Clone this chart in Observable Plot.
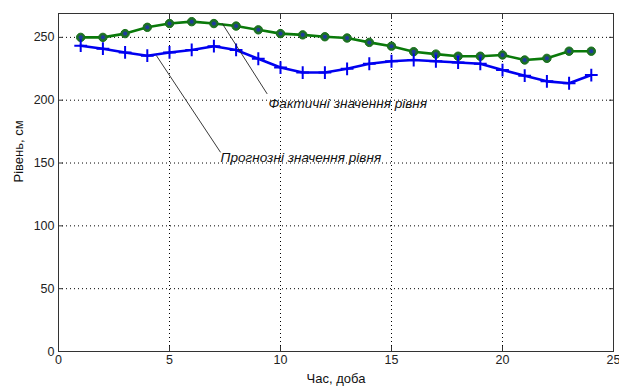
<!DOCTYPE html>
<html>
<head>
<meta charset="utf-8">
<script src="https://cdn.jsdelivr.net/npm/d3@7"></script>
<script src="https://cdn.jsdelivr.net/npm/@observablehq/plot@0.6"></script>
<style>
  html, body { margin: 0; padding: 0; background: #fff; }
  #chart svg { display: block; }
</style>
</head>
<body>
<div id="chart"></div>
<script>
const days = [1,2,3,4,5,6,7,8,9,10,11,12,13,14,15,16,17,18,19,20,21,22,23,24];
const actual = [250,250,253,258,261,262.5,261,259,256,253,252,250.5,249.5,246,243,238.6,236.7,235,235,236,232,233.3,239,239];
const forecast = [243.4,241,238,235.4,238,240,243,240,233,226,222,222,225,229,231,232,231,230,229,224,219.5,215,213.5,220];
const xTicks = [0,5,10,15,20,25];
const yTicks = [0,50,100,150,200,250];
const labelActual = "Фактичні значення рівня";
const labelForecast = "Прогнозні значення рівня";
const xTitle = "Час, доба";
const yTitle = "Рівень, см";
// annotation anchors in data coordinates
const annActual = {x1: 7.37, y1: 261.2, x2: 9.40, y2: 205, tx: 9.46, ty: 197};
const annForecast = {x1: 4.41, y1: 235.5, x2: 7.30, y2: 158.5, tx: 7.30, ty: 154};

const actualData = days.map((d, i) => ({x: d, y: actual[i]}));
const forecastData = days.map((d, i) => ({x: d, y: forecast[i]}));

const font = "'Liberation Sans', Arial, sans-serif";

const plot = Plot.plot({
  width: 619,
  height: 389,
  marginLeft: 58,
  marginRight: 6,
  marginTop: 13,
  marginBottom: 38,
  style: {fontFamily: font, fontSize: "12px", background: "#fff", color: "#000"},
  x: {domain: [0, 25], ticks: xTicks, label: null},
  y: {domain: [0, 269], ticks: yTicks, label: null},
  marks: [
    Plot.gridX(xTicks.slice(1, -1), {stroke: "#000", strokeOpacity: 1, strokeWidth: 1, strokeDasharray: "1,3"}),
    Plot.gridY(yTicks.slice(1), {stroke: "#000", strokeOpacity: 1, strokeWidth: 1, strokeDasharray: "1,3"}),
    Plot.frame({stroke: "#333", strokeWidth: 1}),
    Plot.axisX(xTicks, {tickSize: -5, tickPadding: 9, fontSize: 12.5, stroke: "#333", fill: "#222"}),
    Plot.axisX(xTicks, {anchor: "top", tickSize: -5, text: null, label: null, stroke: "#333"}),
    Plot.axisY(yTicks, {tickSize: -5, tickPadding: 9, fontSize: 12.5, stroke: "#333", fill: "#222"}),
    Plot.axisY(yTicks, {anchor: "right", tickSize: -5, text: null, label: null, stroke: "#333"}),
    Plot.line(actualData, {x: "x", y: "y", stroke: "#0a7a0a", strokeWidth: 2.6}),
    Plot.dot(actualData, {x: "x", y: "y", r: 4.2, fill: "#1e6e2a", stroke: "#157015", strokeWidth: 1}),
    Plot.dot(actualData, {x: "x", y: "y", r: 2, fill: "#1f3a9e", stroke: null}),
    Plot.line(forecastData, {x: "x", y: "y", stroke: "#0000f0", strokeWidth: 2.6}),
    Plot.dot(forecastData, {x: "x", y: "y", symbol: "plus", r: 4.2, stroke: "#0000f0", strokeWidth: 2}),
    Plot.link([annActual, annForecast], {x1: "x1", y1: "y1", x2: "x2", y2: "y2", stroke: "#222", strokeWidth: 0.9}),
    Plot.text([{...annActual, t: labelActual}, {...annForecast, t: labelForecast}], {
      x: "tx", y: "ty", text: "t", textAnchor: "start", fontStyle: "italic", fontSize: 13.6, fill: "#111"
    }),
    Plot.text([xTitle], {frameAnchor: "bottom", dy: 31, fontSize: 13, fill: "#111"}),
    Plot.text([yTitle], {frameAnchor: "left", dx: -40, rotate: -90, fontSize: 13, fill: "#111"})
  ]
});
document.getElementById("chart").appendChild(plot);
</script>
</body>
</html>
